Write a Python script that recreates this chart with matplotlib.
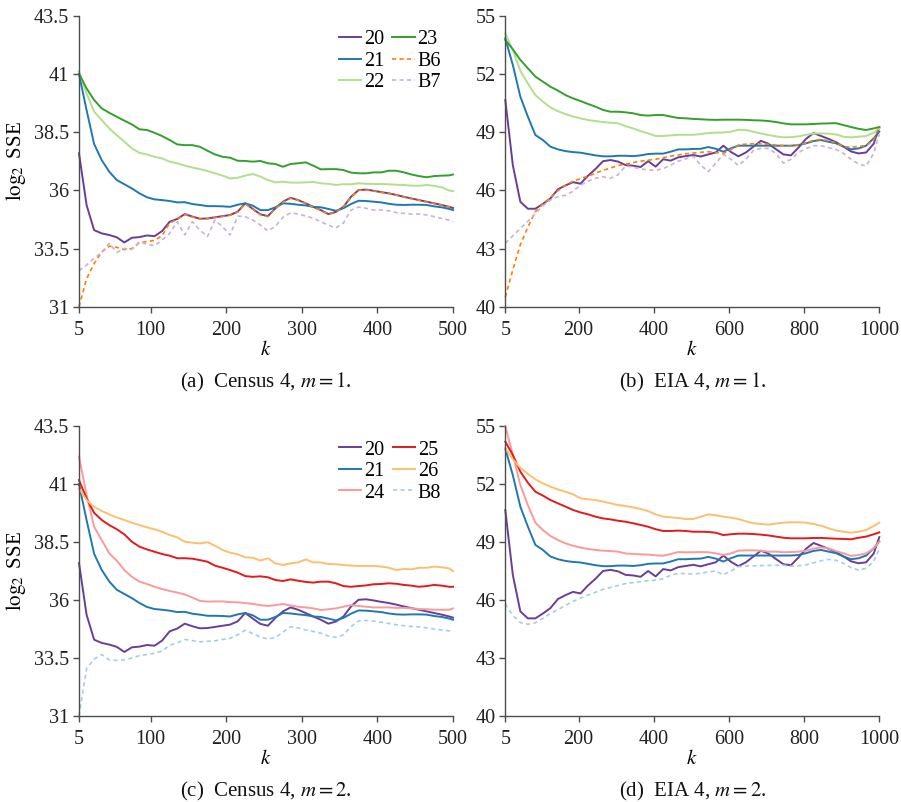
import matplotlib
matplotlib.use("Agg")
import matplotlib.pyplot as plt

# ── DATA ──────────────────────────────────────────────────────────────────────

# x grids: Census runs every 10 k, EIA runs every 20 k
k_census = list(range(5, 500, 10)) + [500]
k_eia = list(range(5, 1000, 20)) + [1000]

# Census 4 (shared by m = 1 and m = 2)
census_20 = [37.59, 35.37, 34.29, 34.15, 34.08, 33.98, 33.76, 33.96, 33.99, 34.06,
             34.03, 34.25, 34.65, 34.77, 34.98, 34.87, 34.78, 34.79, 34.84, 34.89,
             34.94, 35.08, 35.44, 35.20, 34.97, 34.89, 35.23, 35.51, 35.68, 35.58,
             35.44, 35.29, 35.15, 34.98, 35.07, 35.29, 35.72, 36.01, 36.03, 35.98,
             35.92, 35.87, 35.80, 35.72, 35.65, 35.58, 35.51, 35.44, 35.37, 35.29,
             35.24]
census_21 = [41.00, 39.45, 37.99, 37.30, 36.80, 36.44, 36.26, 36.08, 35.87, 35.70,
             35.61, 35.58, 35.54, 35.48, 35.49, 35.41, 35.37, 35.32, 35.32, 35.31,
             35.29, 35.38, 35.44, 35.34, 35.15, 35.15, 35.27, 35.44, 35.42, 35.38,
             35.35, 35.29, 35.27, 35.20, 35.12, 35.23, 35.41, 35.55, 35.54, 35.51,
             35.48, 35.42, 35.38, 35.37, 35.38, 35.38, 35.37, 35.31, 35.27, 35.20,
             35.15]

# Census 4, m = 1
census_22 = [41.10, 40.16, 39.38, 39.02, 38.66, 38.37, 38.09, 37.80, 37.61, 37.54,
             37.44, 37.37, 37.23, 37.16, 37.06, 36.98, 36.91, 36.83, 36.73, 36.63,
             36.51, 36.54, 36.63, 36.70, 36.59, 36.44, 36.34, 36.37, 36.33, 36.33,
             36.34, 36.36, 36.30, 36.28, 36.23, 36.26, 36.26, 36.30, 36.28, 36.27,
             36.27, 36.26, 36.24, 36.23, 36.20, 36.19, 36.23, 36.19, 36.13, 35.99,
             35.97]
census_23 = [41.00, 40.38, 39.88, 39.52, 39.33, 39.16, 38.99, 38.83, 38.62, 38.59,
             38.47, 38.33, 38.16, 37.97, 37.94, 37.94, 37.87, 37.70, 37.54, 37.44,
             37.40, 37.27, 37.26, 37.23, 37.26, 37.16, 37.13, 37.01, 37.13, 37.16,
             37.20, 37.06, 36.90, 36.91, 36.91, 36.87, 36.76, 36.73, 36.73, 36.77,
             36.77, 36.84, 36.84, 36.77, 36.68, 36.61, 36.56, 36.61, 36.63, 36.64,
             36.68]
census_b6 = [31.00, 32.20, 32.85, 33.35, 33.60, 33.55, 33.45, 33.50, 33.75, 33.80,
             33.85, 34.05, 34.60, 34.75, 34.96, 34.86, 34.76, 34.78, 34.83, 34.88,
             34.93, 35.06, 35.42, 35.19, 34.95, 34.87, 35.21, 35.49, 35.66, 35.57,
             35.43, 35.28, 35.14, 34.97, 35.06, 35.28, 35.70, 36.00, 36.02, 35.97,
             35.91, 35.86, 35.79, 35.71, 35.64, 35.57, 35.50, 35.43, 35.36, 35.28,
             35.23]
census_b7 = [32.55, 32.79, 33.08, 33.33, 33.72, 33.33, 33.50, 33.46, 33.79, 33.68,
             33.62, 33.86, 34.15, 34.65, 34.08, 34.65, 34.29, 34.01, 34.72, 34.43,
             34.08, 34.89, 34.87, 34.72, 34.51, 34.25, 34.45, 34.85, 35.03, 34.98,
             34.90, 34.80, 34.65, 34.50, 34.38, 34.60, 35.15, 35.28, 35.23, 35.15,
             35.15, 35.12, 35.04, 35.01, 34.98, 34.98, 34.94, 34.87, 34.79, 34.72,
             34.65]

# Census 4, m = 2
census_24 = [42.18, 40.53, 39.16, 38.59, 38.01, 37.70, 37.29, 37.00, 36.79, 36.69,
             36.57, 36.47, 36.39, 36.32, 36.24, 36.11, 35.96, 35.93, 35.94, 35.94,
             35.91, 35.90, 35.87, 35.83, 35.78, 35.74, 35.78, 35.83, 35.76, 35.71,
             35.68, 35.64, 35.57, 35.60, 35.64, 35.71, 35.78, 35.74, 35.71, 35.68,
             35.68, 35.68, 35.66, 35.66, 35.64, 35.61, 35.60, 35.58, 35.58, 35.58,
             35.64]
census_25 = [41.17, 40.38, 39.76, 39.45, 39.23, 39.05, 38.83, 38.51, 38.30, 38.18,
             38.08, 37.98, 37.91, 37.80, 37.80, 37.78, 37.72, 37.65, 37.48, 37.39,
             37.29, 37.18, 37.03, 37.00, 37.02, 36.98, 36.86, 36.82, 36.89, 36.83,
             36.78, 36.75, 36.79, 36.79, 36.72, 36.60, 36.57, 36.60, 36.63, 36.68,
             36.69, 36.72, 36.70, 36.65, 36.62, 36.57, 36.60, 36.65, 36.62, 36.57,
             36.57]
census_26 = [40.81, 40.31, 40.02, 39.84, 39.69, 39.56, 39.45, 39.33, 39.23, 39.13,
             39.05, 38.94, 38.80, 38.70, 38.51, 38.47, 38.44, 38.49, 38.34, 38.16,
             38.04, 37.97, 37.84, 37.82, 37.70, 37.80, 37.58, 37.51, 37.58, 37.62,
             37.75, 37.62, 37.62, 37.55, 37.54, 37.51, 37.48, 37.47, 37.47, 37.47,
             37.44, 37.39, 37.29, 37.34, 37.32, 37.39, 37.39, 37.44, 37.41, 37.36,
             37.25]
census_b8 = [31.00, 33.05, 33.45, 33.65, 33.42, 33.40, 33.42, 33.50, 33.60, 33.65,
             33.70, 33.80, 34.05, 34.15, 34.30, 34.25, 34.20, 34.22, 34.24, 34.30,
             34.35, 34.50, 34.70, 34.55, 34.40, 34.32, 34.38, 34.62, 34.85, 34.80,
             34.71, 34.64, 34.57, 34.45, 34.39, 34.50, 34.85, 35.10, 35.12, 35.09,
             35.04, 34.99, 34.93, 34.89, 34.86, 34.84, 34.80, 34.75, 34.71, 34.67,
             34.62]

# EIA 4 (shared by m = 1 and m = 2)
eia_20 = [50.65, 47.30, 45.41, 45.05, 45.05, 45.30, 45.58, 46.05, 46.25, 46.42,
          46.34, 46.75, 47.10, 47.50, 47.56, 47.48, 47.30, 47.27, 47.20, 47.50,
          47.22, 47.60, 47.53, 47.70, 47.76, 47.82, 47.74, 47.85, 47.95, 48.30,
          47.98, 47.75, 47.95, 48.25, 48.55, 48.40, 48.12, 47.85, 47.80, 48.20,
          48.65, 48.95, 48.80, 48.65, 48.48, 48.25, 48.00, 47.90, 47.95, 48.40,
          49.25]
eia_21 = [53.83, 52.46, 50.83, 49.80, 48.85, 48.59, 48.25, 48.11, 48.02, 47.97,
          47.94, 47.87, 47.80, 47.75, 47.75, 47.78, 47.78, 47.76, 47.80, 47.87,
          47.89, 47.89, 47.99, 48.11, 48.11, 48.13, 48.14, 48.23, 48.14, 47.99,
          48.16, 48.30, 48.30, 48.30, 48.30, 48.30, 48.30, 48.30, 48.30, 48.33,
          48.42, 48.54, 48.59, 48.50, 48.42, 48.25, 48.11, 48.16, 48.30, 48.68,
          49.02]

# EIA 4, m = 1
eia_22 = [54.09, 53.23, 52.16, 51.51, 50.91, 50.57, 50.27, 50.08, 49.93, 49.80,
          49.71, 49.62, 49.57, 49.52, 49.48, 49.45, 49.31, 49.19, 49.05, 48.93,
          48.80, 48.80, 48.83, 48.86, 48.86, 48.86, 48.90, 48.95, 48.97, 48.98,
          49.02, 49.12, 49.11, 49.02, 48.93, 48.85, 48.78, 48.73, 48.74, 48.78,
          48.86, 48.93, 48.93, 48.92, 48.88, 48.76, 48.73, 48.76, 48.80, 48.97,
          49.19]
eia_23 = [53.75, 53.27, 52.72, 52.29, 51.86, 51.60, 51.34, 51.14, 50.91, 50.74,
          50.60, 50.45, 50.31, 50.14, 50.05, 50.05, 50.02, 49.97, 49.88, 49.85,
          49.88, 49.88, 49.80, 49.73, 49.71, 49.68, 49.66, 49.64, 49.63, 49.64,
          49.64, 49.64, 49.63, 49.61, 49.60, 49.57, 49.52, 49.45, 49.40, 49.40,
          49.40, 49.42, 49.44, 49.45, 49.46, 49.36, 49.26, 49.17, 49.11, 49.19,
          49.26]
eia_b6 = [40.50, 41.90, 43.20, 44.10, 44.90, 45.30, 45.62, 45.98, 46.25, 46.47,
          46.60, 46.73, 46.88, 47.03, 47.15, 47.28, 47.35, 47.43, 47.50, 47.55,
          47.60, 47.68, 47.76, 47.82, 47.88, 47.92, 47.96, 47.99, 47.95, 47.90,
          48.10, 48.33, 48.38, 48.40, 48.40, 48.37, 48.33, 48.30, 48.28, 48.35,
          48.43, 48.58, 48.62, 48.55, 48.45, 48.25, 48.22, 48.26, 48.30, 48.60,
          49.30]
eia_b7 = [43.27, 43.65, 44.03, 44.40, 44.80, 45.20, 45.50, 45.68, 45.74, 45.95,
          46.27, 46.47, 46.62, 46.70, 46.62, 46.80, 47.25, 47.20, 47.10, 47.05,
          47.03, 47.12, 47.30, 47.50, 47.62, 47.75, 47.30, 46.96, 47.40, 47.85,
          47.60, 47.28, 47.60, 48.05, 48.16, 48.16, 47.90, 47.40, 47.60, 47.95,
          48.15, 48.30, 48.30, 48.20, 48.10, 47.90, 47.60, 47.35, 47.25, 47.90,
          48.90]

# EIA 4, m = 2
eia_24 = [55.00, 53.50, 51.95, 50.91, 50.00, 49.62, 49.31, 49.10, 48.93, 48.81,
          48.71, 48.64, 48.59, 48.55, 48.53, 48.50, 48.41, 48.38, 48.36, 48.35,
          48.31, 48.29, 48.38, 48.48, 48.47, 48.47, 48.48, 48.47, 48.41, 48.33,
          48.41, 48.55, 48.57, 48.57, 48.55, 48.50, 48.50, 48.47, 48.48, 48.50,
          48.55, 48.66, 48.72, 48.67, 48.53, 48.41, 48.28, 48.33, 48.41, 48.67,
          49.02]
eia_25 = [54.19, 53.50, 52.64, 52.07, 51.60, 51.40, 51.17, 51.00, 50.83, 50.66,
          50.53, 50.43, 50.31, 50.22, 50.17, 50.10, 50.05, 49.97, 49.88, 49.79,
          49.66, 49.57, 49.57, 49.59, 49.57, 49.53, 49.53, 49.52, 49.48, 49.36,
          49.40, 49.43, 49.43, 49.41, 49.38, 49.34, 49.28, 49.22, 49.19, 49.19,
          49.19, 49.21, 49.21, 49.19, 49.17, 49.16, 49.14, 49.22, 49.28, 49.40,
          49.50]
eia_26 = [53.84, 53.28, 52.84, 52.52, 52.24, 52.03, 51.86, 51.72, 51.60, 51.47,
          51.26, 51.21, 51.17, 51.09, 51.00, 50.91, 50.86, 50.79, 50.71, 50.60,
          50.43, 50.31, 50.28, 50.24, 50.19, 50.19, 50.31, 50.43, 50.38, 50.31,
          50.26, 50.19, 50.07, 49.97, 49.93, 49.90, 49.95, 50.00, 50.02, 50.02,
          50.00, 49.93, 49.84, 49.71, 49.59, 49.53, 49.48, 49.53, 49.62, 49.83,
          50.00]
eia_b8 = [45.80, 45.20, 44.83, 44.75, 44.82, 45.05, 45.30, 45.50, 45.72, 45.93,
          46.10, 46.25, 46.40, 46.55, 46.65, 46.75, 46.85, 46.90, 46.95, 47.00,
          47.03, 47.10, 47.28, 47.38, 47.36, 47.34, 47.38, 47.45, 47.50, 47.30,
          47.50, 47.72, 47.76, 47.77, 47.78, 47.79, 47.80, 47.80, 47.75, 47.77,
          47.82, 47.92, 48.03, 48.10, 48.05, 47.90, 47.67, 47.55, 47.64, 48.00,
          48.64]

census_yticks = [31, 33.5, 36, 38.5, 41, 43.5]
census_xticks = [5, 100, 200, 300, 400, 500]
eia_yticks = [40, 43, 46, 49, 52, 55]
eia_xticks = [5, 200, 400, 600, 800, 1000]

# ── STYLE ─────────────────────────────────────────────────────────────────────

plt.rcParams['font.family'] = ['Liberation Serif', 'DejaVu Serif']
plt.rcParams['mathtext.fontset'] = 'stix'

SOLID = dict(linestyle='-', linewidth=1.4)
DASH = dict(linestyle=(0, (2.5, 2.0)), linewidth=1.2)

STYLES = {
    '20': dict(color='#6a3d9a', **SOLID),
    '21': dict(color='#1f78b4', **SOLID),
    '22': dict(color='#b2df8a', **SOLID),
    '23': dict(color='#33a02c', **SOLID),
    '24': dict(color='#fb9a99', **SOLID),
    '25': dict(color='#e31a1c', **SOLID),
    '26': dict(color='#fdbf6f', **SOLID),
    'B6': dict(color='#ff7f00', **DASH),
    'B7': dict(color='#cab2d6', **DASH),
    'B8': dict(color='#a6cee3', **DASH),
}

AXIS_GRAY = '#4d4d4d'


def style_axes(ax, xticks, yticks, xlim, ylim, ylabel, caption):
    for side in ('top', 'right'):
        ax.spines[side].set_visible(False)
    for side in ('left', 'bottom'):
        ax.spines[side].set_color(AXIS_GRAY)
        ax.spines[side].set_linewidth(1.0)
    ax.set_xlim(*xlim)
    ax.set_ylim(*ylim)
    ax.set_xticks(xticks)
    ax.set_yticks(yticks)
    ax.set_yticklabels([f"{t:g}" for t in yticks])
    ax.tick_params(direction='out', length=4, width=1.0, color=AXIS_GRAY,
                   labelsize=14.5, labelcolor='#222222')
    ax.tick_params(axis='x', pad=6)
    ax.tick_params(axis='y', pad=3)
    ax.set_xlabel('$k$', fontsize=15, labelpad=1)
    if ylabel:
        ax.set_ylabel(r'$\log_2$ SSE', fontsize=15, labelpad=4)
    ax.text(0.5, -0.26, caption, transform=ax.transAxes, ha='center',
            va='center', fontsize=15, color='#111111')


def draw(ax, xs, series, legend):
    for name, ys in series:
        ax.plot(xs, ys, label=name, **STYLES[name])
    if legend:
        ax.legend(ncol=2, loc='upper right', bbox_to_anchor=(0.995, 0.985),
                  frameon=False, fontsize=14.5, handlelength=1.1,
                  handletextpad=0.15, columnspacing=0.4, labelspacing=0.12,
                  borderaxespad=0.1)


# ── PLOT ──────────────────────────────────────────────────────────────────────

fig = plt.figure(figsize=(9.01, 8.02), dpi=100)

W, H = 901, 802
def place(left, top, right, bottom):
    return fig.add_axes([left / W, 1 - bottom / H, (right - left) / W, (bottom - top) / H])

ax_a = place(79, 15.7, 453, 306.7)
ax_b = place(505.3, 15.7, 879.3, 306.7)
ax_c = place(79, 426, 453, 716)
ax_d = place(505.3, 426, 879.3, 716)

draw(ax_a, k_census, [('20', census_20), ('21', census_21), ('22', census_22),
                      ('23', census_23), ('B6', census_b6), ('B7', census_b7)], True)
style_axes(ax_a, census_xticks, census_yticks, (5, 500), (31, 43.5),
           True, '(a)  Census 4, $m = 1$.')

draw(ax_b, k_eia, [('20', eia_20), ('21', eia_21), ('22', eia_22),
                   ('23', eia_23), ('B6', eia_b6), ('B7', eia_b7)], False)
style_axes(ax_b, eia_xticks, eia_yticks, (5, 1000), (40, 55),
           False, '(b)  EIA 4, $m = 1$.')

draw(ax_c, k_census, [('20', census_20), ('21', census_21), ('24', census_24),
                      ('25', census_25), ('26', census_26), ('B8', census_b8)], True)
style_axes(ax_c, census_xticks, census_yticks, (5, 500), (31, 43.5),
           True, '(c)  Census 4, $m = 2$.')

draw(ax_d, k_eia, [('20', eia_20), ('21', eia_21), ('24', eia_24),
                   ('25', eia_25), ('26', eia_26), ('B8', eia_b8)], False)
style_axes(ax_d, eia_xticks, eia_yticks, (5, 1000), (40, 55),
           False, '(d)  EIA 4, $m = 2$.')

for ax in (ax_a, ax_b, ax_c, ax_d):
    for line in ax.get_lines():
        line.set_clip_on(False)

plt.savefig("out.png", dpi=100)
print("Plot saved to out.png")
